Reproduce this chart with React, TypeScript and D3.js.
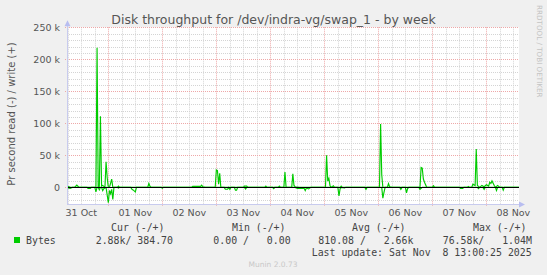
import React from "react";
import * as d3 from "d3";

// hours since 2025-10-31 00:00 UTC
const writeHours = [5.5, 7, 9, 10, 11, 18, 18.5, 19, 19.5, 20, 20.5, 21, 21.5, 22.5, 23, 23.5, 24, 24.5, 25.5, 26, 28, 28.5, 29, 41.5, 42, 42.5, 43, 61, 61.5, 65, 65.5, 66, 67, 71.5, 72, 72.5, 73, 73.5, 74, 84, 84.5, 85.5, 86, 93.5, 94, 94.5, 99.5, 100, 100.5, 102, 102.5, 103, 105.5, 106, 106.5, 107, 109, 120.5, 121, 121.5, 122, 122.5, 123, 124, 124.5, 127, 127.5, 128, 144.5, 145, 145.5, 146, 148, 148.5, 149, 150, 162.5, 163, 163.5, 164, 164.5, 165.5, 168, 168.5, 169, 183.5, 184, 184.5, 185.5, 186, 187, 187.5, 188, 189, 190, 191, 192, 193, 193.5, 194, 194.5, 195.5, 196, 197, 198, 206.5];
const writeValues = [1500, 500, 0, 3500, 0, 0, 0, 218000, 0, 0, 111000, 2000, 3000, 0, 40000, 15000, 0, 0, 13000, 0, 0, 2000, 0, 0, 6000, 2000, 0, 0, 1500, 1500, 3500, 1000, 0, 0, 27000, 26000, 5000, 22000, 0, 0, 2000, 2000, 0, 0, 2000, 0, 0, 2000, 0, 0, 24000, 0, 0, 21000, 3000, 1000, 0, 0, 50000, 10000, 14000, 3000, 0, 2500, 0, 0, 2000, 0, 0, 99000, 20000, 0, 0, 6000, 1000, 0, 0, 31000, 30000, 13000, 8000, 0, 0, 2500, 0, 0, 1500, 0, 0, 5000, 3000, 60000, 3000, 0, 3000, 1000, 4000, 2000, 8000, 6000, 10000, 3000, 0, 3000, 0, 0];

const readHours = [5.5, 7, 8, 14.5, 15, 16, 16.5, 18, 18.5, 19, 19.5, 20, 20.5, 21, 21.5, 22, 23, 24, 24.5, 25, 25.5, 26, 26.5, 28, 28.5, 29, 34, 34.5, 35, 36, 36.5, 47.5, 48, 48.5, 75.5, 76, 77, 77.5, 78, 78.5, 80, 80.5, 81, 81.5, 84.5, 85, 85.5, 97, 97.5, 98, 107, 108, 111, 111.5, 112, 113, 114, 126, 126.5, 127, 127.5, 129, 129.5, 138, 138.5, 139, 145.5, 146, 146.5, 147, 153.5, 154, 154.5, 156, 156.5, 157, 157.5, 162, 162.5, 163.5, 180, 180.5, 181.5, 182, 188, 188.5, 189, 190.5, 191, 191.5, 196, 196.5, 197, 199, 199.5, 200, 206.5];
const readValues = [500, 1500, 0, 0, 1500, 1500, 0, 0, 7000, 0, 0, 4000, 0, 0, 5000, 2000, 0, 24000, 5000, 10000, 3000, 19000, 0, 0, 1000, 0, 0, 3000, 4000, 7000, 0, 0, 1500, 0, 0, 3000, 3000, 0, 3000, 0, 0, 4500, 4500, 0, 0, 2500, 0, 0, 2000, 0, 0, 1500, 1500, 5000, 1000, 2500, 0, 0, 13500, 2000, 0, 1000, 0, 0, 3000, 0, 0, 17000, 8000, 0, 0, 3000, 0, 0, 8500, 2000, 0, 0, 3000, 0, 0, 1500, 1500, 0, 0, 2000, 0, 0, 3000, 0, 0, 5000, 0, 0, 4500, 0, 0];

const yMajorTicks = [0, 50000, 100000, 150000, 200000, 250000];
const yTickLabels = ["0", "50 k", "100 k", "150 k", "200 k", "250 k"];

const legendHeaders = ["Cur (-/+)", "Min (-/+)", "Avg (-/+)", "Max (-/+)"];
const legendValues = ["2.88k/ 384.70", "0.00 /   0.00", "810.08 /   2.66k", "76.58k/   1.04M"];
const seriesName = "Bytes";
const titleText = "Disk throughput for /dev/indra-vg/swap_1 - by week";
const yLabel = "Pr second read (-) / write (+)";
const lastUpdate = "Last update: Sat Nov  8 13:00:25 2025";

const BASE = Date.UTC(2025, 9, 31);
const hToDate = (h: number) => new Date(BASE + h * 3600e3);

export default function App() {
  const W = 547, H = 275;
  const left = 67, right = 519, top = 27.3, bottom = 204;
  const x = d3.scaleUtc().domain([hToDate(5.64), hToDate(206.5)]).range([left, right]);
  const y = d3.scaleLinear().domain([-26000, 250000]).range([bottom, top]);

  const minorX = d3.utcHour.every(6)!.range(x.domain()[0], x.domain()[1]).filter((d) => d.getUTCHours() !== 0);
  const majorX = d3.utcDay.range(x.domain()[0], x.domain()[1]);
  const labelDays = d3.utcDay.range(hToDate(0), hToDate(200));
  const fmt = d3.utcFormat("%d %b");
  const minorY = d3.range(-20000, 250001, 10000).filter((v) => v % 50000 !== 0);

  const writeData = writeHours.map((h, i) => [hToDate(h), writeValues[i]] as [Date, number]);
  const readData = readHours.map((h, i) => [hToDate(h), -readValues[i]] as [Date, number]);
  const line = d3.line<[Date, number]>().x((d) => x(d[0])).y((d) => y(d[1]));

  const sans = "'DejaVu Sans', sans-serif";
  const mono = "'DejaVu Sans Mono', monospace";
  const minorCol = "#d4d4d4";
  const majorCol = "#eea8a8";

  return (
    <svg width={W} height={H} style={{ position: "absolute", left: 0, top: 0, background: "#f0f0f0" }}>
      <rect x={0} y={0} width={W} height={H} fill="#f0f0f0" />
      <rect x={left} y={top} width={right - left} height={bottom - top} fill="#ffffff" />
      <defs>
        <clipPath id="plot">
          <rect x={left} y={top - 1} width={right - left} height={bottom - top + 1} />
        </clipPath>
      </defs>
      {/* minor grid */}
      {minorX.map((d, i) => (
        <line key={"mx" + i} x1={Math.round(x(d)) + 0.5} x2={Math.round(x(d)) + 0.5} y1={top} y2={bottom} stroke={minorCol} strokeDasharray="1,1" />
      ))}
      {minorY.map((v, i) => (
        <line key={"my" + i} x1={left} x2={right} y1={Math.round(y(v)) + 0.5} y2={Math.round(y(v)) + 0.5} stroke={minorCol} strokeDasharray="1,1" />
      ))}
      {/* major grid */}
      {majorX.map((d, i) => (
        <line key={"Mx" + i} x1={Math.round(x(d)) + 0.5} x2={Math.round(x(d)) + 0.5} y1={top} y2={bottom + 2} stroke={majorCol} strokeDasharray="1,1" />
      ))}
      {yMajorTicks.map((v, i) => (
        <line key={"My" + i} x1={left - 2} x2={right} y1={Math.round(y(v)) + 0.5} y2={Math.round(y(v)) + 0.5} stroke={majorCol} strokeDasharray="1,1" />
      ))}
      {/* data */}
      <g clipPath="url(#plot)">
        <path d={line(readData) || ""} fill="none" stroke="#00cc00" strokeWidth={1.15} />
        <path d={line(writeData) || ""} fill="none" stroke="#00cc00" strokeWidth={1.15} />
      </g>
      {/* zero line */}
      <line x1={left} x2={right} y1={Math.round(y(0)) + 0.5} y2={Math.round(y(0)) + 0.5} stroke="#000" strokeWidth={1} />
      {/* axes */}
      <line x1={left + 0.5} x2={left + 0.5} y1={bottom} y2={top - 6} stroke="#c8cbee" />
      <line x1={left} x2={right + 2} y1={bottom + 0.5} y2={bottom + 0.5} stroke="#c8cbee" />
      <path d={`M${left + 0.5},${top - 7} L${left - 2.5},${top - 1} L${left + 3.5},${top - 1} Z`} fill="#b8bdf0" />
      <path d={`M${right + 6},${bottom + 0.5} L${right},${bottom - 2.5} L${right},${bottom + 3.5} Z`} fill="#b8bdf0" />
      {/* y labels */}
      {yMajorTicks.map((v, i) => (
        <text key={"yl" + i} x={60} y={y(v) + 3.5} textAnchor="end" fontFamily={sans} fontSize={9.5} fill="#555">
          {yTickLabels[i]}
        </text>
      ))}
      {/* x labels */}
      {labelDays.map((d, i) => (
        <text key={"xl" + i} x={x(new Date(+d + 12 * 3600e3))} y={216} textAnchor="middle" fontFamily={sans} fontSize={9.5} fill="#555">
          {fmt(d)}
        </text>
      ))}
      {/* title */}
      <text x={273.5} y={23.5} textAnchor="middle" fontFamily={sans} fontSize={12.5} fill="#555">{titleText}</text>
      {/* y axis title */}
      <text transform="translate(15,114) rotate(-90)" textAnchor="middle" fontFamily={sans} fontSize={10} fill="#555">{yLabel}</text>
      {/* watermark */}
      <text transform="translate(537,5) rotate(90)" textAnchor="start" fontFamily={sans} fontSize={7.2} fill="#c4c4c4">RRDTOOL / TOBI OETIKER</text>
      {/* legend */}
      <rect x={14} y={237} width={6} height={6} fill="#00cc00" />
      <text x={26} y={243.5} fontFamily={mono} fontSize={9.9} fill="#444" style={{ whiteSpace: "pre" }}>{seriesName}</text>
      {[111, 232, 352, 473].map((xx, i) => (
        <text key={"lh" + i} x={xx} y={231} fontFamily={mono} fontSize={9.9} fill="#444" style={{ whiteSpace: "pre" }}>{legendHeaders[i]}</text>
      ))}
      {[95.7, 213.3, 318.3, 442.7].map((xx, i) => (
        <text key={"lv" + i} x={xx} y={243.5} fontFamily={mono} fontSize={9.9} fill="#444" style={{ whiteSpace: "pre" }}>{legendValues[i]}</text>
      ))}
      <text x={311.7} y={255.5} fontFamily={mono} fontSize={9.9} fill="#444" style={{ whiteSpace: "pre" }}>{lastUpdate}</text>
      <text x={273} y={266.5} textAnchor="middle" fontFamily={sans} fontSize={7.5} fill="#c8c8c8">Munin 2.0.73</text>
    </svg>
  );
}
